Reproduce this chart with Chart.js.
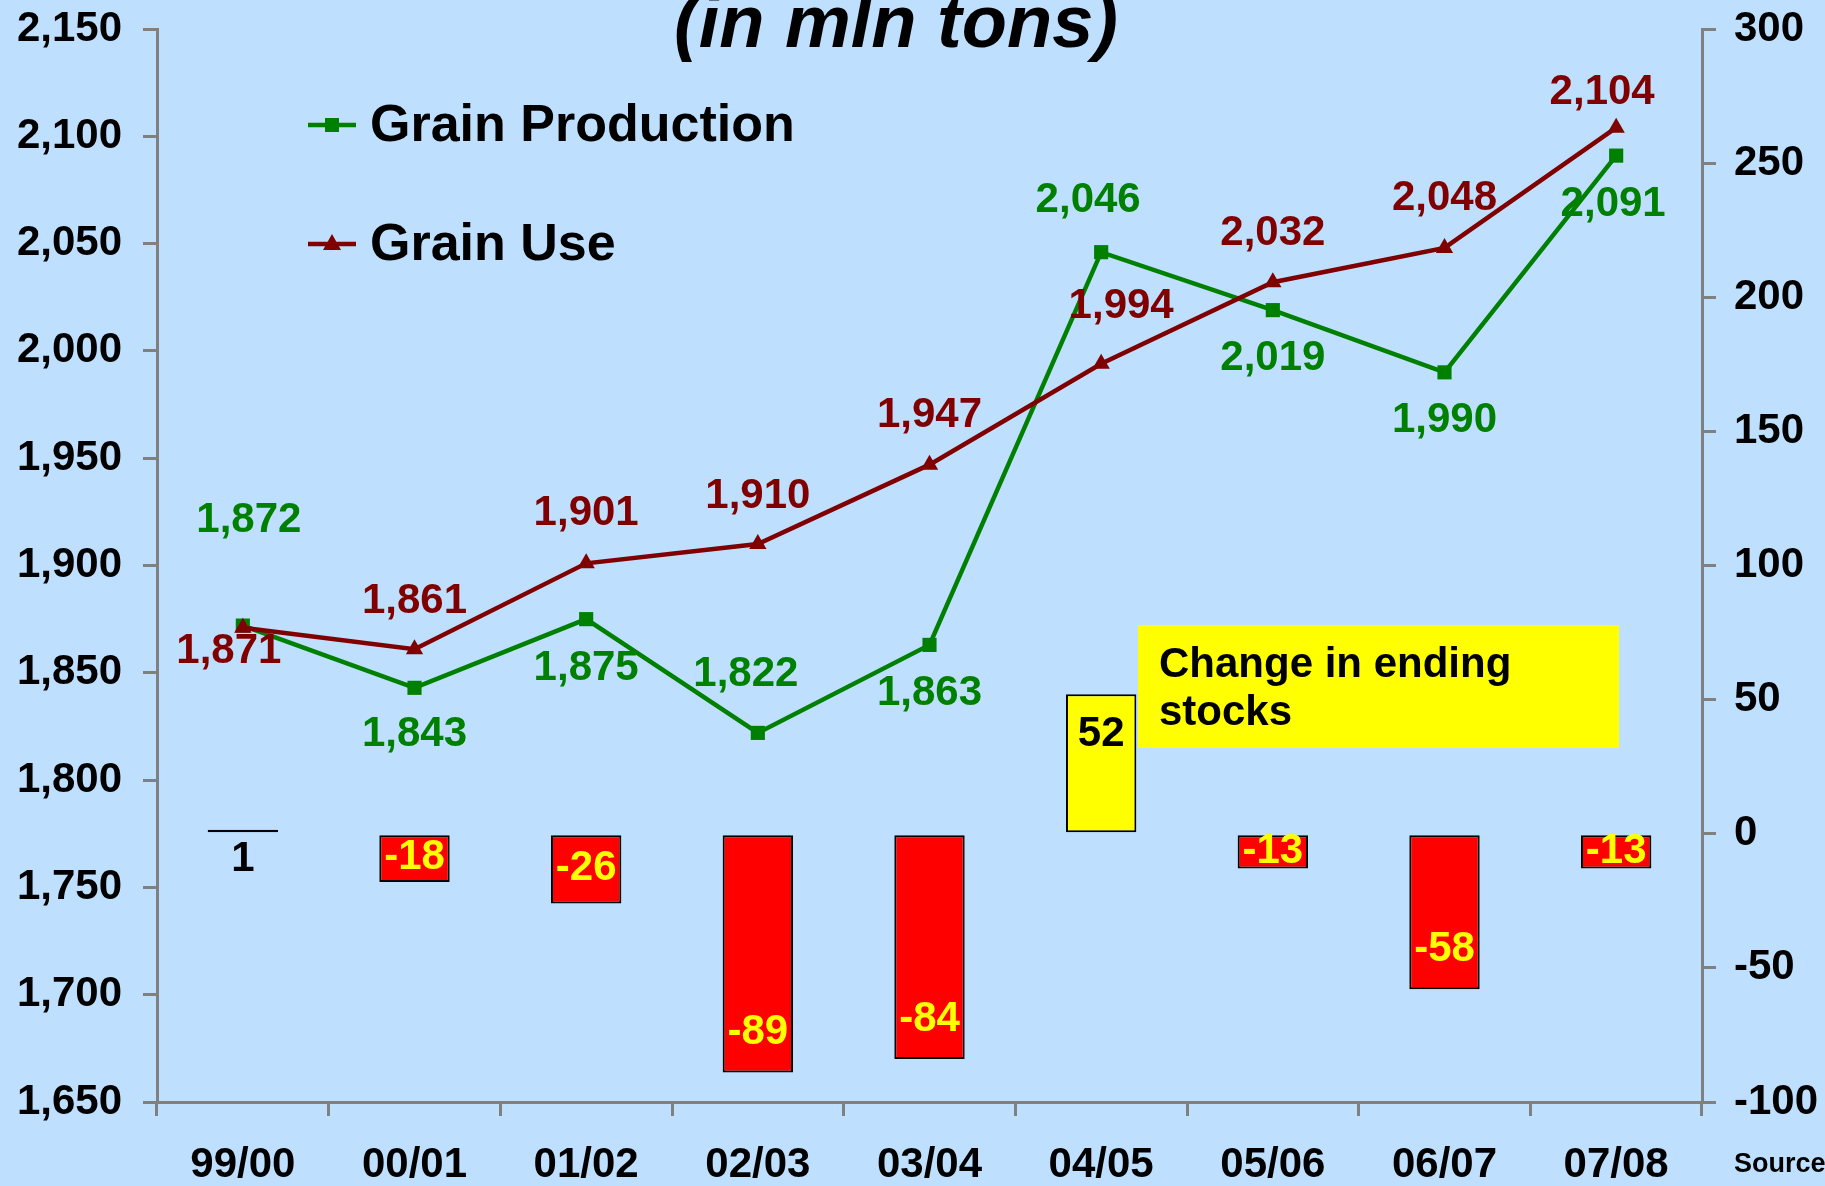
<!DOCTYPE html>
<html>
<head>
<meta charset="utf-8">
<script src="https://cdn.jsdelivr.net/npm/chart.js@4.4.0/dist/chart.umd.min.js"></script>
<style>
  body { margin: 0; background: #BFDFFF; }
  #wrap { width: 1825px; height: 1186px; overflow: hidden; }
</style>
</head>
<body>
<div id="wrap"><canvas id="grafik" width="1825" height="1186"></canvas></div>
<script>
const tahun = ['99/00', '00/01', '01/02', '02/03', '03/04', '04/05', '05/06', '06/07', '07/08'];
const produksi = [1872, 1843, 1875, 1822, 1863, 2046, 2019, 1990, 2091];
const pemakaian = [1871, 1861, 1901, 1910, 1947, 1994, 2032, 2048, 2104];
const perubahanStok = [1, -18, -26, -89, -84, 52, -13, -58, -13];

const ticksKiri = [1650, 2150, 50];   // min, max, step
const ticksKanan = [-100, 300, 50];

// geser label (dx, dy) dari titiknya, dalam px
const geserProduksi = [[6, -105], [0, 47], [0, 49], [-12, -58], [0, 49], [-13, -52], [0, 48], [0, 48], [-3, 49]];
const geserPemakaian = [[-14, 24], [0, -48], [0, -50], [0, -48], [0, -49], [20, -57], [0, -49], [0, -49], [-14, -35]];

const HIJAU = '#008000';
const MERAH_TUA = '#800000';
const ABU = '#808080';
const FONT = '"Liberation Sans", Arial, sans-serif';

const fmt = (v) => v.toLocaleString('en-US');

const pluginLabel = {
    id: 'labelData',
    afterDatasetsDraw(chart) {
        const ctx = chart.ctx;
        ctx.save();
        ctx.font = 'bold 42px ' + FONT;
        ctx.textAlign = 'center';
        ctx.textBaseline = 'middle';

        // label batang
        const metaBar = chart.getDatasetMeta(0);
        const y1 = chart.scales.y1;
        const dasar = y1.getPixelForValue(0);
        metaBar.data.forEach((el, i) => {
            const v = perubahanStok[i];
            const tinggi = Math.abs(el.y - dasar);
            let y;
            if (tinggi < 20) {
                y = dasar + 26;
            } else if (v < 0) {
                y = el.y - Math.min(40, tinggi / 2);
            } else {
                y = el.y + Math.min(40, tinggi / 2);
            }
            ctx.fillStyle = v < 0 ? '#FFFF00' : '#000000';
            ctx.fillText(fmt(v), el.x, y);
        });

        // label garis
        const metaProd = chart.getDatasetMeta(1);
        ctx.fillStyle = HIJAU;
        metaProd.data.forEach((el, i) => {
            ctx.fillText(fmt(produksi[i]), el.x + geserProduksi[i][0], el.y + geserProduksi[i][1]);
        });
        const metaPakai = chart.getDatasetMeta(2);
        ctx.fillStyle = MERAH_TUA;
        metaPakai.data.forEach((el, i) => {
            ctx.fillText(fmt(pemakaian[i]), el.x + geserPemakaian[i][0], el.y + geserPemakaian[i][1]);
        });
        ctx.restore();
    },
    afterDraw(chart) {
        const ctx = chart.ctx;
        ctx.save();
        // judul (terpotong di atas)
        ctx.fillStyle = '#000';
        ctx.font = 'italic bold 74px ' + FONT;
        ctx.textAlign = 'center';
        ctx.textBaseline = 'alphabetic';
        ctx.fillText('(in mln tons)', 896, 47);

        // legenda
        const legenda = [
            { teks: 'Grain Production', warna: HIJAU, y: 125, gaya: 'rect' },
            { teks: 'Grain Use', warna: MERAH_TUA, y: 244, gaya: 'triangle' }
        ];
        legenda.forEach((l) => {
            ctx.strokeStyle = l.warna;
            ctx.lineWidth = 4.5;
            ctx.beginPath();
            ctx.moveTo(308, l.y);
            ctx.lineTo(356, l.y);
            ctx.stroke();
            ctx.fillStyle = l.warna;
            if (l.gaya === 'rect') {
                ctx.fillRect(325, l.y - 7, 14, 14);
            } else {
                ctx.beginPath();
                ctx.moveTo(332, l.y - 10);
                ctx.lineTo(341, l.y + 6);
                ctx.lineTo(323, l.y + 6);
                ctx.closePath();
                ctx.fill();
            }
            ctx.fillStyle = '#000';
            ctx.font = 'bold 52px ' + FONT;
            ctx.textAlign = 'left';
            ctx.textBaseline = 'middle';
            ctx.fillText(l.teks, 370, l.y + 2);
        });

        // kotak keterangan
        ctx.fillStyle = '#FFFF00';
        ctx.fillRect(1138, 625, 481, 123);
        ctx.fillStyle = '#000';
        ctx.font = 'bold 42px ' + FONT;
        ctx.textAlign = 'left';
        ctx.textBaseline = 'middle';
        ctx.fillText('Change in ending', 1159, 665);
        ctx.fillText('stocks', 1159, 713);

        // sumber
        ctx.font = 'bold 27px ' + FONT;
        ctx.fillText('Source', 1734, 1165);
        ctx.restore();
    }
};

const sumbu = (posisi) => ({
    position: posisi,
    border: { display: true, color: ABU, width: 3 },
    grid: { drawOnChartArea: false, drawTicks: true, tickLength: 14, color: ABU, lineWidth: 3 },
    ticks: { color: '#000', font: { family: FONT, size: 42, weight: 'bold' } }
});

const ctx = document.getElementById('grafik').getContext('2d');

const grafik = new Chart(ctx, {
    type: 'bar',
    data: {
        labels: tahun,
        datasets: [
            {
                type: 'bar',
                label: 'Change in ending stocks',
                data: perubahanStok,
                yAxisID: 'y1',
                backgroundColor: perubahanStok.map(v => v < 0 ? '#FF0000' : '#FFFF00'),
                borderColor: '#000',
                borderWidth: 2,
                borderSkipped: false,
                minBarLength: 4,
                categoryPercentage: 1,
                barPercentage: 0.41,
                order: 3
            },
            {
                type: 'line',
                label: 'Grain Production',
                data: produksi,
                yAxisID: 'y',
                borderColor: HIJAU,
                backgroundColor: HIJAU,
                borderWidth: 4.5,
                pointStyle: 'rect',
                pointRadius: 10,
                pointBorderWidth: 0,
                tension: 0,
                order: 2
            },
            {
                type: 'line',
                label: 'Grain Use',
                data: pemakaian,
                yAxisID: 'y',
                borderColor: MERAH_TUA,
                backgroundColor: MERAH_TUA,
                borderWidth: 4.5,
                pointStyle: 'triangle',
                pointRadius: 10,
                pointBorderWidth: 0,
                tension: 0,
                order: 1
            }
        ]
    },
    options: {
        responsive: false,
        animation: false,
        locale: 'en-US',
        layout: { padding: { top: 29, left: 0, right: 0, bottom: 0 } },
        plugins: {
            legend: { display: false },
            tooltip: { enabled: false }
        },
        scales: {
            x: Object.assign(sumbu('bottom'), {
                afterFit(s) { s.height = 84; }
            }),
            y: Object.assign(sumbu('left'), {
                min: ticksKiri[0],
                max: ticksKiri[1],
                afterFit(s) { s.width = 157; s.paddingTop = 0; s.paddingBottom = 0; }
            }),
            y1: Object.assign(sumbu('right'), {
                min: ticksKanan[0],
                max: ticksKanan[1],
                afterFit(s) { s.width = 123; s.paddingTop = 0; s.paddingBottom = 0; }
            })
        }
    },
    plugins: [pluginLabel]
});

grafik.options.scales.x.ticks.padding = 24;
grafik.options.scales.y.ticks.padding = 21;
grafik.options.scales.y.ticks.stepSize = ticksKiri[2];
grafik.options.scales.y1.ticks.padding = 18;
grafik.options.scales.y1.ticks.stepSize = ticksKanan[2];
grafik.update();
</script>
</body>
</html>
